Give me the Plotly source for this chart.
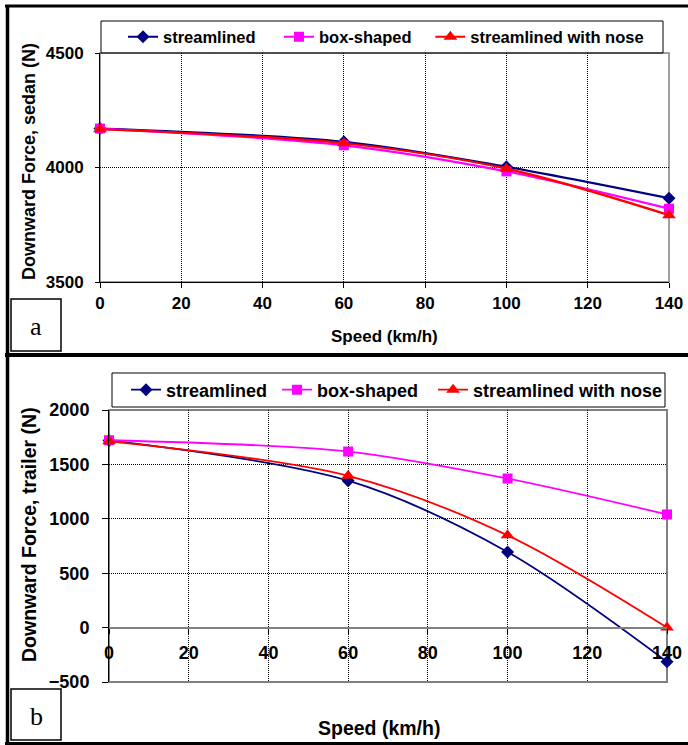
import plotly.graph_objects as go

# ---------------- data ----------------
speed = [0, 60, 100, 140]
series_names = ["streamlined", "box-shaped", "streamlined with nose"]

sedan_streamlined = [4170, 4112, 4003, 3866]
sedan_box = [4170, 4097, 3983, 3820]
sedan_nose = [4167, 4106, 3995, 3792]

trailer_streamlined = [1720, 1350, 695, -314]
trailer_box = [1722, 1618, 1370, 1040]
trailer_nose = [1712, 1395, 848, 0]

x_ticks = [0, 20, 40, 60, 80, 100, 120, 140]
sedan_yticks = [3500, 4000, 4500]
trailer_yticks = [-500, 0, 500, 1000, 1500, 2000]

# ---------------- styling ----------------
W, H = 688, 745
def px(x):
    return x / W
def py(y):
    return 1 - y / H

colors = ["#000080", "#FF00FF", "#FF0000"]
symbols = ["diamond", "square", "triangle-up"]
msizes = [10, 10, 12]
FONT = "Liberation Sans, Arial, sans-serif"
GRID = "#000000"
NB = "\u00a0"
pad_top = [4, 3, 0]
pad_bot = [1, 2, 0]

fig = go.Figure()

for name, ys, c, s, sz, p in zip(series_names, [sedan_streamlined, sedan_box, sedan_nose], colors, symbols, msizes, pad_top):
    fig.add_trace(go.Scatter(
        x=speed, y=ys, name=name + NB * p, mode="lines+markers",
        line=dict(color=c, width=2.2, shape="spline", smoothing=0.9),
        marker=dict(symbol=s, size=sz, color=c),
        xaxis="x", yaxis="y", legend="legend", cliponaxis=False))

for name, ys, c, s, sz, p in zip(series_names, [trailer_streamlined, trailer_box, trailer_nose], colors, symbols, msizes, pad_bot):
    fig.add_trace(go.Scatter(
        x=speed, y=ys, name=name + NB * p, mode="lines+markers",
        line=dict(color=c, width=1.8, shape="spline", smoothing=0.9),
        marker=dict(symbol=s, size=sz, color=c),
        xaxis="x2", yaxis="y2", legend="legend2", cliponaxis=False))

grid_style = dict(showgrid=True, gridcolor=GRID, griddash="1px,1px", gridwidth=1, ticks="")
common_x = dict(range=[0, 140], tickvals=x_ticks, showgrid=False, zeroline=False, ticks="outside",
                tickcolor="black", tickwidth=1, automargin=False,
                minor=dict(grid_style, tickvals=x_ticks[1:-1]))
common_y = dict(showgrid=False, zeroline=False, ticks="outside", tickcolor="black", tickwidth=1,
                automargin=False)

fig.update_layout(
    width=W, height=H,
    margin=dict(l=0, r=0, t=0, b=0),
    paper_bgcolor="white", plot_bgcolor="white",
    font=dict(family=FONT, color="black"),
    showlegend=True,
    xaxis=dict(common_x, domain=[px(100), px(669)], anchor="y", showline=True, linecolor="black",
               linewidth=1, ticklen=5, ticklabelstandoff=1,
               tickfont=dict(size=17, weight="bold", family=FONT)),
    yaxis=dict(common_y, domain=[py(282), py(53)], anchor="x", range=[3500, 4500], tickvals=sedan_yticks,
               minor=dict(grid_style, tickvals=sedan_yticks[1:-1]),
               showline=True, linecolor="black", linewidth=1, ticklen=4, ticklabelstandoff=8,
               tickfont=dict(size=17, weight="bold", family=FONT)),
    xaxis2=dict(common_x, domain=[px(109), px(667)], anchor="free", position=py(627.6),
                showline=True, linecolor="#808080", linewidth=2, ticklen=5, ticklabelstandoff=4,
                tickfont=dict(size=18, weight="bold", family=FONT)),
    yaxis2=dict(common_y, domain=[py(682), py(410)], anchor="x2", range=[-500, 2000], tickvals=trailer_yticks,
                minor=dict(grid_style, tickvals=trailer_yticks[1:-1]),
                showline=True, linecolor="black", linewidth=1, ticklen=6, ticklabelstandoff=9,
                tickfont=dict(size=18, weight="bold", family=FONT)),
    legend=dict(orientation="h", x=px(123), xanchor="left", y=py(37), yanchor="middle",
                bgcolor="rgba(0,0,0,0)", borderwidth=0,
                font=dict(size=16.5, weight="bold", family=FONT), itemclick=False, itemdoubleclick=False),
    legend2=dict(orientation="h", x=px(126), xanchor="left", y=py(390), yanchor="middle",
                 bgcolor="rgba(0,0,0,0)", borderwidth=0,
                 font=dict(size=18, weight="bold", family=FONT), itemclick=False, itemdoubleclick=False),
)

shapes = []
# plot area borders (grey)
shapes.append(dict(type="rect", xref="x domain", yref="y domain", x0=0, x1=1, y0=0, y1=1,
                   line=dict(color="#808080", width=1.5), layer="below"))
shapes.append(dict(type="rect", xref="x2 domain", yref="y2 domain", x0=0, x1=1, y0=0, y1=1,
                   line=dict(color="#808080", width=2), layer="below"))
# legend boxes
shapes.append(dict(type="rect", xref="paper", yref="paper", x0=px(101), x1=px(663), y0=py(53), y1=py(21),
                   line=dict(color="black", width=1)))
shapes.append(dict(type="rect", xref="paper", yref="paper", x0=px(112), x1=px(665), y0=py(407), y1=py(373),
                   line=dict(color="black", width=1)))
# panel label boxes
shapes.append(dict(type="rect", xref="paper", yref="paper", x0=px(11), x1=px(61), y0=py(351), y1=py(299),
                   line=dict(color="black", width=1.5)))
shapes.append(dict(type="rect", xref="paper", yref="paper", x0=px(11), x1=px(61), y0=py(740), y1=py(689),
                   line=dict(color="black", width=1.5)))
# outer thick frame
shapes.append(dict(type="line", xref="paper", yref="paper", x0=px(5), x1=1, y0=py(6), y1=py(6),
                   line=dict(color="black", width=3)))
shapes.append(dict(type="line", xref="paper", yref="paper", x0=px(7.5), x1=px(7.5), y0=py(5), y1=0,
                   line=dict(color="black", width=3.5)))
shapes.append(dict(type="line", xref="paper", yref="paper", x0=px(5), x1=1, y0=py(355), y1=py(355),
                   line=dict(color="black", width=4)))
shapes.append(dict(type="line", xref="paper", yref="paper", x0=px(5), x1=1, y0=py(743.5), y1=py(743.5),
                   line=dict(color="black", width=3)))
fig.update_layout(shapes=shapes)

ann = []
ann.append(dict(text="Downward Force, sedan (N)", x=px(29), y=py(162), xref="paper", yref="paper",
                textangle=-90, showarrow=False, xanchor="center", yanchor="middle",
                font=dict(size=18, weight="bold", family=FONT)))
ann.append(dict(text="Speed (km/h)", x=px(384), y=py(336), xref="paper", yref="paper",
                showarrow=False, xanchor="center", yanchor="middle",
                font=dict(size=17, weight="bold", family=FONT)))
ann.append(dict(text="Downward Force, trailer (N)", x=px(29), y=py(535), xref="paper", yref="paper",
                textangle=-90, showarrow=False, xanchor="center", yanchor="middle",
                font=dict(size=19.5, weight="bold", family=FONT)))
ann.append(dict(text="Speed (km/h)", x=px(379), y=py(728), xref="paper", yref="paper",
                showarrow=False, xanchor="center", yanchor="middle",
                font=dict(size=19.5, weight="bold", family=FONT)))
ann.append(dict(text="a", x=px(36), y=py(326), xref="paper", yref="paper", showarrow=False,
                xanchor="center", yanchor="middle",
                font=dict(size=26, family="Liberation Serif, Times New Roman, serif")))
ann.append(dict(text="b", x=px(36), y=py(716), xref="paper", yref="paper", showarrow=False,
                xanchor="center", yanchor="middle",
                font=dict(size=26, family="Liberation Serif, Times New Roman, serif")))
fig.update_layout(annotations=ann)

fig.write_html("out.html", config={"displayModeBar": False},
               post_script="document.body.style.margin='0px';document.body.style.overflow='hidden';")
